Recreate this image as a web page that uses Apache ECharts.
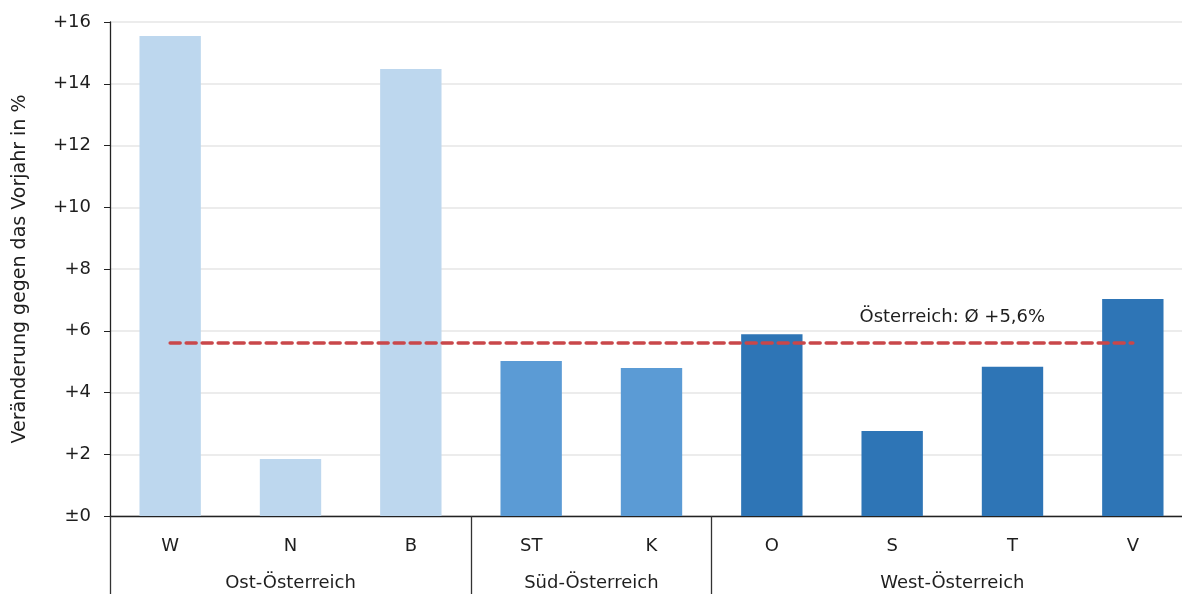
<!DOCTYPE html>
<html>
<head>
<meta charset="utf-8">
<script src="https://cdn.jsdelivr.net/npm/echarts@6/dist/echarts.min.js"></script>
<style>
  html, body { margin: 0; padding: 0; background: #fff; }
  #chart { width: 1182px; height: 594px; }
</style>
</head>
<body>
<div id="chart"></div>
<script>
// Bundesländer, grouped by region
const categories = ['W', 'N', 'B', 'ST', 'K', 'O', 'S', 'T', 'V'];
const values = [15.55, 1.85, 14.48, 5.02, 4.79, 5.89, 2.75, 4.83, 7.03];
const regionOf = [0, 0, 0, 1, 1, 2, 2, 2, 2];
const regions = ['Ost-Österreich', 'Süd-Österreich', 'West-Österreich'];
const regionColors = ['#BDD7EE', '#5B9BD5', '#2E75B6'];
// region boundaries and label centres on a 0..9 positional scale
const regionBounds = [0, 3, 5];
const regionCentres = [1.5, 4, 7];
const austriaAvg = 5.6;
const yTicks = [0, 2, 4, 6, 8, 10, 12, 14, 16];

const FONT = '"DejaVu Sans", sans-serif';
const FS = 18;
const TEXT = '#1e1e1e';

const chart = echarts.init(document.getElementById('chart'), null, { renderer: 'canvas' });

chart.setOption({
  animation: false,
  textStyle: { fontFamily: FONT },
  grid: {
    left: 110, top: 22, width: 1083, height: 494,
    containLabel: false, outerBoundsMode: 'none'
  },
  xAxis: [
    {
      type: 'category',
      data: categories,
      axisLine: { lineStyle: { color: '#222', width: 1.3 } },
      axisTick: { show: false },
      axisLabel: { color: TEXT, fontSize: FS, margin: 21, fontFamily: FONT },
      splitLine: { show: false }
    },
    {
      type: 'value',
      min: 0, max: 9,
      position: 'bottom',
      axisLine: { show: false },
      splitLine: { show: false },
      axisTick: {
        show: true,
        customValues: regionBounds,
        length: 80,
        lineStyle: { color: '#333', width: 1.3 }
      },
      axisLabel: {
        customValues: regionCentres,
        margin: 58,
        color: TEXT,
        fontSize: FS,
        fontFamily: FONT,
        formatter: (v) => regions[regionCentres.indexOf(v)]
      }
    }
  ],
  yAxis: {
    type: 'value',
    min: yTicks[0], max: yTicks[yTicks.length - 1], interval: 2,
    name: 'Veränderung gegen das Vorjahr in %',
    nameLocation: 'middle',
    nameGap: 80,
    nameTextStyle: { color: TEXT, fontSize: 19, fontFamily: FONT },
    axisLine: { show: true, lineStyle: { color: '#222', width: 1.3 } },
    axisTick: { show: true, length: 6, lineStyle: { color: '#222' } },
    axisLabel: {
      color: TEXT, fontSize: FS, margin: 19, fontFamily: FONT,
      formatter: (v) => (v === 0 ? '±0' : '+' + v)
    },
    splitLine: { show: true, lineStyle: { color: '#ececec', width: 2 } }
  },
  series: [
    {
      type: 'bar',
      xAxisIndex: 0,
      barWidth: '51%',
      data: values.map((v, i) => ({ value: v, itemStyle: { color: regionColors[regionOf[i]] } }))
    },
    {
      // Austrian average, drawn from the first to the last Bundesland
      type: 'line',
      xAxisIndex: 1,
      symbol: 'none',
      z: 5,
      lineStyle: { color: '#C9474A', width: 3.5, type: [10, 6], cap: 'round' },
      data: [[0.5, austriaAvg], [categories.length - 0.5, austriaAvg]],
      markPoint: {
        symbol: 'circle',
        symbolSize: 1,
        itemStyle: { color: 'rgba(0,0,0,0)' },
        data: [{ coord: [7, austriaAvg] }],
        label: {
          show: true,
          position: 'inside',
          formatter: 'Österreich: Ø +' + String(austriaAvg).replace('.', ',') + '%',
          color: TEXT,
          fontSize: FS,
          fontFamily: FONT,
          offset: [0, -26]
        }
      }
    }
  ]
});
</script>
</body>
</html>
